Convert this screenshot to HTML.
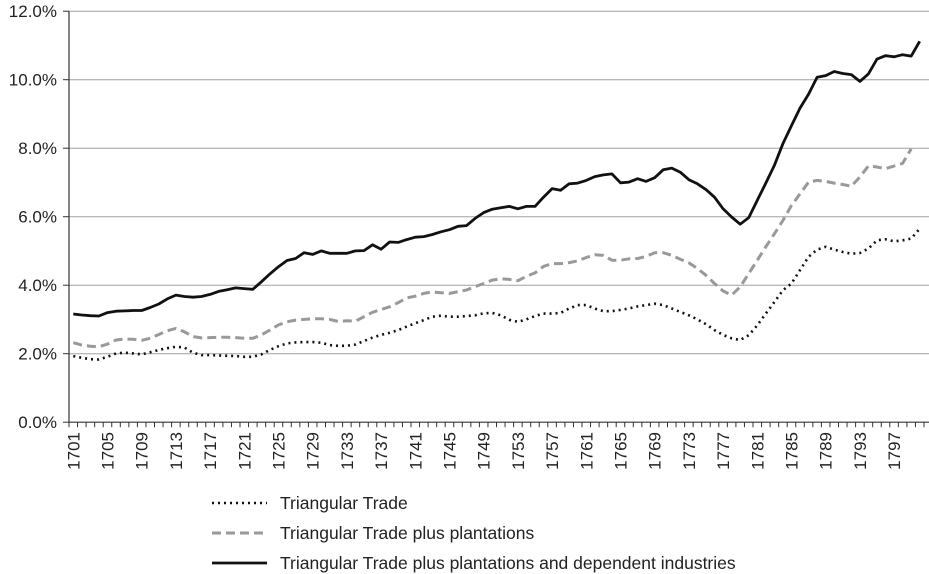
<!DOCTYPE html>
<html><head><meta charset="utf-8"><style>
body{margin:0;background:#fff;}
svg{display:block;font-family:"Liberation Sans",Arial,sans-serif;}
</style></head><body>
<svg id="chart" width="929" height="574"></svg>
<script>
const years = [];
for (let y = 1701; y <= 1800; y++) years.push(y);
const tickLabels = ["0.0%","2.0%","4.0%","6.0%","8.0%","10.0%","12.0%"];
const tickValues = [0,2,4,6,8,10,12];
const seriesNames = ["Triangular Trade","Triangular Trade plus plantations","Triangular Trade plus plantations and dependent industries"];
const triangular = [1.93,1.88,1.84,1.83,1.91,2.01,2.03,2.01,1.98,2.04,2.11,2.16,2.20,2.18,2.03,1.96,1.96,1.95,1.94,1.93,1.91,1.91,1.98,2.11,2.22,2.30,2.33,2.34,2.34,2.32,2.25,2.23,2.23,2.27,2.37,2.47,2.55,2.61,2.69,2.79,2.89,2.98,3.08,3.11,3.08,3.08,3.10,3.12,3.18,3.19,3.12,2.99,2.93,3.00,3.10,3.17,3.17,3.19,3.32,3.42,3.42,3.32,3.24,3.24,3.28,3.32,3.38,3.42,3.46,3.42,3.32,3.22,3.12,3.00,2.86,2.69,2.55,2.45,2.40,2.54,2.83,3.17,3.51,3.85,4.05,4.44,4.83,5.04,5.12,5.04,4.97,4.92,4.94,5.07,5.31,5.34,5.28,5.31,5.36,5.65];
const plantations = [2.32,2.25,2.22,2.20,2.28,2.40,2.43,2.42,2.39,2.45,2.56,2.67,2.74,2.64,2.50,2.46,2.47,2.48,2.48,2.47,2.45,2.45,2.55,2.69,2.84,2.93,2.98,3.00,3.02,3.02,3.00,2.94,2.96,2.95,3.08,3.21,3.29,3.37,3.49,3.63,3.68,3.76,3.80,3.78,3.76,3.81,3.86,3.96,4.05,4.15,4.19,4.17,4.13,4.26,4.36,4.55,4.63,4.63,4.66,4.71,4.81,4.89,4.87,4.73,4.73,4.77,4.78,4.84,4.95,4.95,4.87,4.76,4.65,4.49,4.29,4.05,3.83,3.71,3.95,4.34,4.73,5.12,5.50,5.89,6.33,6.67,7.01,7.06,7.03,6.98,6.94,6.89,7.16,7.48,7.45,7.40,7.48,7.56,7.98];
const industries = [3.16,3.13,3.11,3.10,3.20,3.24,3.25,3.26,3.26,3.35,3.45,3.60,3.71,3.67,3.65,3.67,3.73,3.82,3.87,3.92,3.90,3.88,4.10,4.33,4.54,4.72,4.78,4.95,4.90,5.00,4.93,4.93,4.93,5.00,5.01,5.18,5.05,5.26,5.25,5.33,5.40,5.42,5.48,5.56,5.62,5.72,5.74,5.95,6.12,6.22,6.26,6.30,6.23,6.30,6.30,6.57,6.82,6.77,6.96,6.98,7.06,7.17,7.22,7.25,6.99,7.01,7.11,7.03,7.14,7.37,7.42,7.30,7.08,6.96,6.79,6.57,6.23,5.99,5.78,5.97,6.48,6.98,7.50,8.13,8.66,9.17,9.58,10.07,10.12,10.24,10.18,10.15,9.95,10.17,10.60,10.70,10.67,10.73,10.69,11.12];

const NS = "http://www.w3.org/2000/svg";
const svg = document.getElementById("chart");
const L = 69, R = 924, T0 = 422.2, PXPER = 34.25;
const step = (R - L) / years.length;
const xOf = i => L + step * (i + 0.5);
const yOf = v => T0 - v * PXPER;
function mk(tag, attrs, parent) {
  const e = document.createElementNS(NS, tag);
  for (const k in attrs) e.setAttribute(k, attrs[k]);
  (parent || svg).appendChild(e);
  return e;
}
tickValues.forEach((v, i) => {
  const y = yOf(v);
  if (v > 0) {
    const g = mk("line", {x1: L, x2: R + 5, y1: y, y2: y, stroke: "#a0a0a0", "stroke-width": 1});
    
    
  }
  const tk = mk("line", {x1: L - 6, x2: L, y1: y, y2: y, stroke: "#333", "stroke-width": 1});
  
  
  const t = mk("text", {x: 57, y: y + 6, "text-anchor": "end", "font-size": 17, fill: "#222"});
  t.textContent = tickLabels[i];
  
  
});
const ya = mk("line", {x1: L, x2: L, y1: yOf(12), y2: T0, stroke: "#333", "stroke-width": 1.2});


const xa = mk("line", {x1: L, x2: R + 5, y1: T0, y2: T0, stroke: "#333", "stroke-width": 1.2});


for (let i = 0; i <= years.length; i++) {
  const x = L + step * i;
  const tk = mk("line", {x1: x, x2: x, y1: T0, y2: T0 + 5, stroke: "#333", "stroke-width": 1});
  
  
}
years.forEach((yr, i) => {
  if ((yr - 1701) % 4 !== 0) return;
  const x = xOf(i) + 6;
  const t = mk("text", {x: x, y: 432, transform: `rotate(-90 ${x} 432)`, "text-anchor": "end", "font-size": 17, fill: "#222"});
  t.textContent = yr;
  
  
});
const styles = [
  {stroke: "#111", "stroke-width": 2.6, "stroke-dasharray": "2 4", "stroke-linecap": "butt"},
  {stroke: "#999", "stroke-width": 3, "stroke-dasharray": "9 5"},
  {stroke: "#111", "stroke-width": 2.8}
];
const seriesData = [triangular, plantations, industries];
const seriesKeys = ["series-triangular-trade", "series-plus-plantations", "series-plus-industries"];
seriesData.forEach((arr, s) => {
  const d = arr.map((v, i) => (i ? "L" : "M") + xOf(i).toFixed(1) + " " + yOf(v).toFixed(1)).join(" ");
  const p = mk("path", Object.assign({d: d, fill: "none", "stroke-linejoin": "round"}, styles[s]));
  
  
});
const legY = [503, 533, 563];
seriesNames.forEach((n, s) => {
  const l = mk("line", Object.assign({x1: 212, x2: 267, y1: legY[s], y2: legY[s]}, styles[s]));
  
  
  const t = mk("text", {x: 280, y: legY[s] + 6, "font-size": 17.5, fill: "#222"});
  t.textContent = n;
  
  
});
</script>
</body></html>
